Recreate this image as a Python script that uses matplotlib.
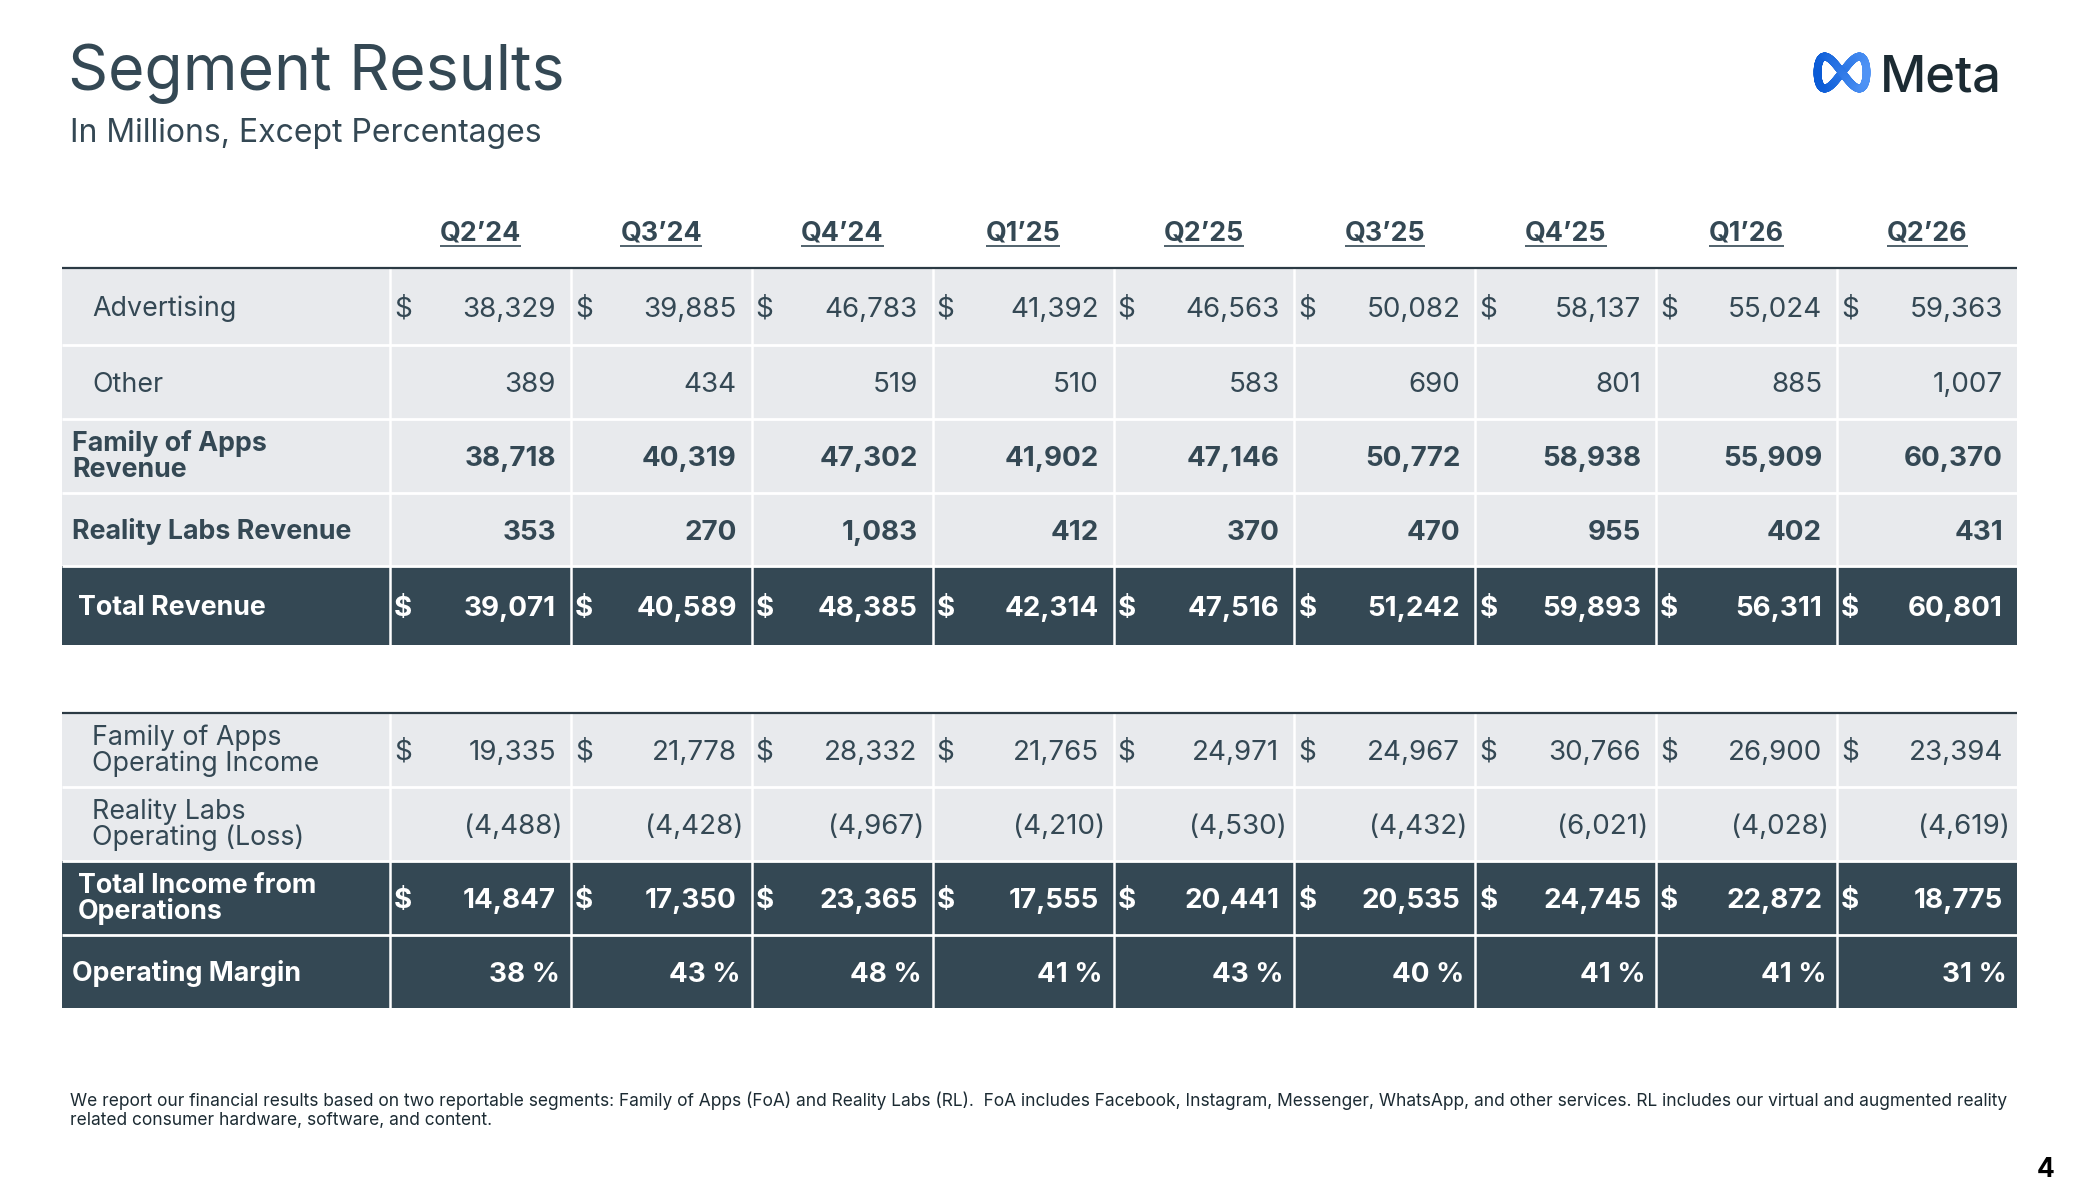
import numpy as np
import matplotlib
matplotlib.use("Agg")
import matplotlib.pyplot as plt
from matplotlib.patches import Rectangle
from matplotlib.collections import LineCollection
from matplotlib.colors import LinearSegmentedColormap

# ---------------- data ----------------
quarters = ["Q2\u201924", "Q3\u201924", "Q4\u201924", "Q1\u201925", "Q2\u201925",
            "Q3\u201925", "Q4\u201925", "Q1\u201926", "Q2\u201926"]
advertising = [38329, 39885, 46783, 41392, 46563, 50082, 58137, 55024, 59363]
other = [389, 434, 519, 510, 583, 690, 801, 885, 1007]
foa_revenue = [38718, 40319, 47302, 41902, 47146, 50772, 58938, 55909, 60370]
rl_revenue = [353, 270, 1083, 412, 370, 470, 955, 402, 431]
total_revenue = [39071, 40589, 48385, 42314, 47516, 51242, 59893, 56311, 60801]
foa_op_income = [19335, 21778, 28332, 21765, 24971, 24967, 30766, 26900, 23394]
rl_op_loss = [-4488, -4428, -4967, -4210, -4530, -4432, -6021, -4028, -4619]
total_op_income = [14847, 17350, 23365, 17555, 20441, 20535, 24745, 22872, 18775]
op_margin = [38, 43, 48, 41, 43, 40, 41, 41, 31]

row_labels_1 = ["Advertising", "Other", "Family of Apps\nRevenue",
                "Reality Labs Revenue", "Total Revenue"]
row_labels_2 = ["Family of Apps\nOperating Income", "Reality Labs\nOperating (Loss)",
                "Total Income from\nOperations", "Operating Margin"]

title = "Segment Results"
subtitle = "In Millions, Except Percentages"
footnote = ["We report our financial results based on two reportable segments: Family of Apps (FoA) and Reality Labs (RL).  "
            "FoA includes Facebook, Instagram, Messenger, WhatsApp, and other services. RL includes our virtual and augmented reality",
            "related consumer hardware, software, and content."]
page_no = "4"

# ---------------- style ----------------
FONT = ["Inter", "DejaVu Sans"]
plt.rcParams["font.family"] = FONT
DARK = "#344854"
TEXT = "#344854"
LIGHT = "#E8EAED"
W, H = 2084, 1198

fig = plt.figure(figsize=(W / 100, H / 100), dpi=100)
ax = fig.add_axes([0, 0, 1, 1])
ax.set_xlim(0, W)
ax.set_ylim(H, 0)
ax.axis("off")

# layout
tab_left, tab_right = 62, 2017
col_w = (2018 - 390) / 9
col_edges = [390 + i * col_w for i in range(10)]
rows1 = [268, 345, 419, 493, 566, 645]
rows2 = [713, 787, 861, 935, 1008]
NUM_FS, LAB_FS = 20, 19.3


def fmt_num(v):
    return f"({abs(v):,})" if v < 0 else f"{v:,}"


def draw_table(edges, labels, series, dollar, bold, dark, indent, kinds):
    for r in range(len(labels)):
        y0, y1 = edges[r], edges[r + 1]
        yc = (y0 + y1) / 2
        fill = DARK if dark[r] else LIGHT
        tc = "white" if dark[r] else TEXT
        fw = "bold" if bold[r] else "normal"
        ax.add_patch(Rectangle((tab_left, y0), tab_right - tab_left, y1 - y0,
                               facecolor=fill, edgecolor="none", zorder=1))
        # label (line by line)
        lines = labels[r].split("\n")
        n = len(lines)
        b0 = yc + 9.5 - (n - 1) * 26 / 2 - (1.5 if n > 1 else 0)
        for i, ln in enumerate(lines):
            ax.text(indent[r], b0 + i * 26, ln, fontsize=LAB_FS, fontweight=fw,
                    color=tc, ha="left", va="baseline", zorder=3)
        for c, v in enumerate(series[r]):
            xl, xr = col_edges[c], col_edges[c + 1]
            if dollar[r]:
                ax.text(xl + 4, yc + 10, "$", fontsize=NUM_FS, fontweight=fw,
                        color=tc, ha="left", va="baseline", zorder=3)
            if kinds[r] == "pct":
                s, xpos = f"{v} %", xr - 11
            elif v < 0:
                s, xpos = fmt_num(v), xr - 8
            else:
                s, xpos = fmt_num(v), xr - 15
            ax.text(xpos, yc + 10, s, fontsize=NUM_FS, fontweight=fw, color=tc,
                    ha="right", va="baseline", zorder=3)
    # white separators
    for x in col_edges[:-1]:
        ax.plot([x, x], [edges[0], edges[-1]], color="white", lw=1.8, zorder=2,
                solid_capstyle="butt")
    for y in edges[1:-1]:
        ax.plot([tab_left, tab_right], [y, y], color="white", lw=2.0, zorder=2,
                solid_capstyle="butt")
    ax.plot([tab_left, tab_right], [edges[0], edges[0]], color="#2B3A44", lw=1.6,
            zorder=4, solid_capstyle="butt")


draw_table(rows1, row_labels_1,
           [advertising, other, foa_revenue, rl_revenue, total_revenue],
           dollar=[True, False, False, False, True],
           bold=[False, False, True, True, True],
           dark=[False, False, False, False, True],
           indent=[92, 92, 72, 72, 78],
           kinds=["num"] * 5)
draw_table(rows2, row_labels_2,
           [foa_op_income, rl_op_loss, total_op_income, op_margin],
           dollar=[True, False, True, False],
           bold=[False, False, True, True],
           dark=[False, False, True, True],
           indent=[92, 92, 78, 72],
           kinds=["num", "num", "num", "pct"])

# headers with underline
hdr_texts = []
for c, q in enumerate(quarters):
    xc = (col_edges[c] + col_edges[c + 1]) / 2
    t = ax.text(xc, 241, q, fontsize=19.3, fontweight="bold", color=TEXT,
                ha="center", va="baseline", zorder=3)
    hdr_texts.append(t)

# titles
ax.text(68, 90, title, fontsize=45, color=TEXT, ha="left", va="baseline")
ax.text(70, 142, subtitle, fontsize=23, color=TEXT, ha="left", va="baseline")

# footnote
for i, ln in enumerate(footnote):
    ax.text(70, 1106 + i * 19, ln, fontsize=12.5, color="#1C2B33", ha="left",
            va="baseline")
ax.text(2054, 1177, page_no, fontsize=19, fontweight="bold", color="black",
        ha="right", va="baseline")

# Meta logo
t = np.linspace(0, 2 * np.pi, 600)
lx = 1842 + 24.5 * np.cos(t)
ly = 72.5 - 16 * np.sin(2 * t)
pts = np.column_stack([lx, ly]).reshape(-1, 1, 2)
segs = np.concatenate([pts[:-1], pts[1:]], axis=1)
cmap = LinearSegmentedColormap.from_list("meta", ["#0A5BD6", "#4F93F5"])
lc = LineCollection(segs, colors=cmap((lx[:-1] - lx.min()) / (lx.max() - lx.min())),
                    linewidths=5.6, capstyle="round", joinstyle="round", zorder=5)
ax.add_collection(lc)
ax.text(1880, 91, "Meta", fontsize=36.5, fontweight="medium", color="#1C2B33",
        ha="left", va="baseline")

# underline the headers
fig.canvas.draw()
r = fig.canvas.get_renderer()
for tx in hdr_texts:
    bb = tx.get_window_extent(r)
    ax.plot([bb.x0, bb.x1], [246, 246], color=TEXT, lw=1.2, zorder=3,
            solid_capstyle="butt")

fig.savefig("out.png", dpi=100)
